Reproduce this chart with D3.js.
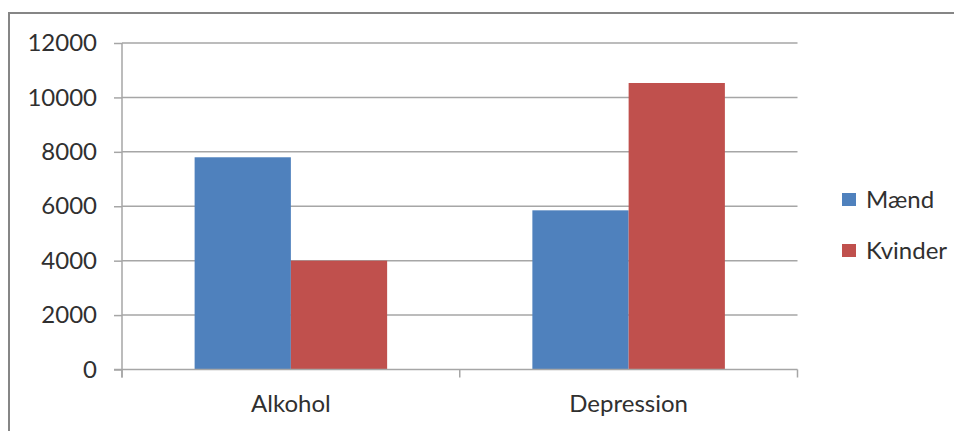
<!DOCTYPE html>
<html>
<head>
<meta charset="utf-8">
<script src="https://cdn.jsdelivr.net/npm/d3@7"></script>
<style>
  html, body { margin: 0; padding: 0; background: #fff; }
  svg { display: block; font-family: Lato, "Open Sans", sans-serif; }
</style>
</head>
<body>
<svg id="chart" width="954" height="431"></svg>
<script>
// Patients per diagnosis, split by sex
const categories = ["Alkohol", "Depression"];
const seriesNames = ["Mænd", "Kvinder"];
const maend = [7800, 5850];
const kvinder = [4000, 10530];
const yTicks = [0, 2000, 4000, 6000, 8000, 10000, 12000];
const colors = ["#4f81bd", "#c0504d"];

const seriesValues = [maend, kvinder];
const rows = categories.map((c, i) => ({
  category: c,
  values: seriesNames.map((s, j) => ({ series: s, value: seriesValues[j][i], idx: j }))
}));

const svg = d3.select("#chart");
const plot = { left: 122, right: 797.5, top: 43, bottom: 369.5 };
const textColor = "#303030";

// Outer chart frame
svg.append("rect")
  .attr("x", 9).attr("y", 13)
  .attr("width", 960).attr("height", 440)
  .attr("fill", "none")
  .attr("stroke", "#868686")
  .attr("stroke-width", 2);

const x = d3.scaleBand()
  .domain(categories)
  .range([plot.left, plot.right])
  .paddingInner(0.43)
  .paddingOuter(0.215);

const xs = d3.scaleBand()
  .domain(seriesNames)
  .range([0, x.bandwidth()]);

const y = d3.scaleLinear()
  .domain([0, 12000])
  .range([plot.bottom, plot.top]);

// Horizontal gridlines
svg.append("g")
  .selectAll("line")
  .data(yTicks.filter(d => d > 0))
  .join("line")
  .attr("x1", plot.left).attr("x2", plot.right)
  .attr("y1", d => y(d)).attr("y2", d => y(d))
  .attr("stroke", "#a6a6a6")
  .attr("stroke-width", 1.5);

// Bars
svg.append("g")
  .selectAll("g")
  .data(rows)
  .join("g")
  .attr("transform", d => `translate(${x(d.category)},0)`)
  .selectAll("rect")
  .data(d => d.values)
  .join("rect")
  .attr("x", d => xs(d.series))
  .attr("y", d => y(d.value))
  .attr("width", xs.bandwidth())
  .attr("height", d => y(0) - y(d.value))
  .attr("fill", d => colors[d.idx]);

// Y axis
const yAxis = svg.append("g")
  .attr("transform", `translate(${plot.left},0)`)
  .call(d3.axisLeft(y).tickValues(yTicks).tickFormat(d3.format("d")).tickSize(8).tickPadding(17));
yAxis.select(".domain").attr("stroke", "#a6a6a6").attr("stroke-width", 1.5)
  .attr("d", `M0,${plot.top}V${plot.bottom + 8}`);
yAxis.selectAll(".tick line").attr("stroke", "#a6a6a6").attr("stroke-width", 1.5);
yAxis.selectAll(".tick text")
  .attr("fill", textColor)
  .style("font-size", "24px")
  .style("font-family", "Lato, 'Open Sans', sans-serif");

// X axis baseline and category boundary ticks
const xAxis = svg.append("g");
xAxis.append("line")
  .attr("x1", plot.left - 8).attr("x2", plot.right)
  .attr("y1", plot.bottom).attr("y2", plot.bottom)
  .attr("stroke", "#a6a6a6").attr("stroke-width", 1.5);
const boundaries = [plot.left].concat(categories.map(c => x(c) + x.bandwidth() + x.step() * x.paddingInner() / 2));
boundaries[boundaries.length - 1] = plot.right;
xAxis.selectAll("line.b")
  .data(boundaries)
  .join("line")
  .attr("class", "b")
  .attr("x1", d => d).attr("x2", d => d)
  .attr("y1", plot.bottom).attr("y2", plot.bottom + 8)
  .attr("stroke", "#a6a6a6").attr("stroke-width", 1.5);
xAxis.selectAll("text")
  .data(categories)
  .join("text")
  .attr("x", d => x(d) + x.bandwidth() / 2)
  .attr("y", 412)
  .attr("text-anchor", "middle")
  .attr("fill", textColor)
  .style("font-size", "24px")
  .text(d => d);

// Legend
const legend = svg.append("g")
  .selectAll("g")
  .data(seriesNames)
  .join("g")
  .attr("transform", (d, i) => `translate(842,${193 + i * 51})`);
legend.append("rect")
  .attr("width", 14).attr("height", 13)
  .attr("fill", (d, i) => colors[i]);
legend.append("text")
  .attr("x", 24).attr("y", 7)
  .attr("dy", "0.35em")
  .attr("fill", textColor)
  .style("font-size", "24px")
  .text(d => d);
</script>
</body>
</html>
